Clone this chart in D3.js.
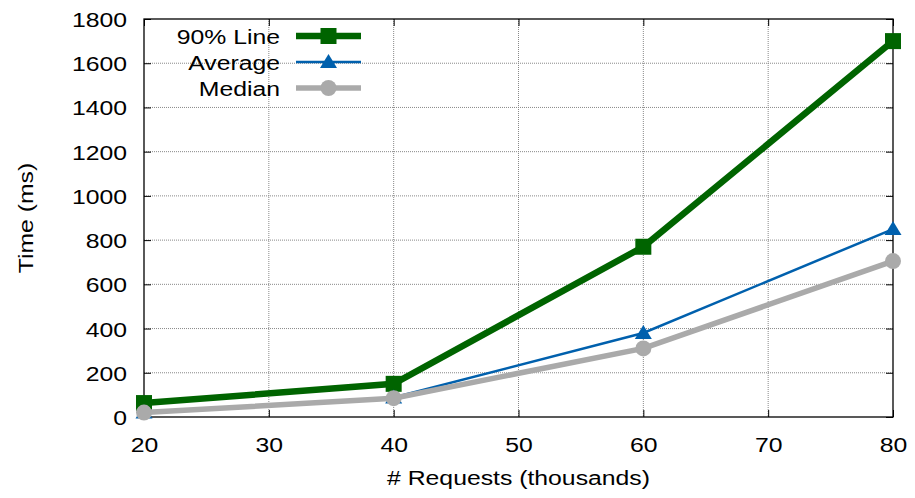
<!DOCTYPE html>
<html>
<head>
<meta charset="utf-8">
<script src="https://cdn.jsdelivr.net/npm/d3@7"></script>
<style>
  body { margin: 0; background: #fff; }
  svg text { font-family: "Liberation Sans", Arial, sans-serif; fill: #000; }
</style>
</head>
<body>
<div id="chart"></div>
<script>
// data
const requests = [20, 40, 60, 80];
const line90 = [63, 150, 770, 1700];
const average = [20, 88, 380, 850];
const median = [20, 85, 310, 705];
const xTicks = [20, 30, 40, 50, 60, 70, 80];
const yTicks = [0, 200, 400, 600, 800, 1000, 1200, 1400, 1600, 1800];

const series = [
  { name: '90% Line', values: line90, color: '#006400', width: 6.5, marker: 'square' },
  { name: 'Average', values: average, color: '#0060ad', width: 2.5, marker: 'triangle' },
  { name: 'Median', values: median, color: '#aaaaaa', width: 5.5, marker: 'circle' }
];

const width = 915, height = 498;
const margin = { top: 19, right: 22, bottom: 81, left: 144 };
const innerW = width - margin.left - margin.right;
const innerH = height - margin.top - margin.bottom;
const fontSize = '21px';
const stretch = 1.18; // reference font is wider than Liberation Sans

const svg = d3.select('#chart').append('svg')
  .attr('width', width)
  .attr('height', height);

const g = svg.append('g').attr('transform', `translate(${margin.left},${margin.top})`);

const x = d3.scaleLinear().domain([20, 80]).range([0, innerW]);
const y = d3.scaleLinear().domain([0, 1800]).range([innerH, 0]);

// move x/y into a transform so text can be widened around its anchor
function widen(sel) {
  sel.each(function() {
    const t = d3.select(this);
    const tx = +t.attr('x') || 0, ty = +t.attr('y') || 0;
    const prev = t.attr('transform') || '';
    t.attr('x', 0).attr('y', 0)
      .attr('transform', `${prev} translate(${tx},${ty}) scale(${stretch},1)`);
  });
}

// grid
g.append('g').selectAll('line')
  .data(xTicks.slice(1, -1))
  .join('line')
  .attr('x1', d => x(d)).attr('x2', d => x(d))
  .attr('y1', 0).attr('y2', innerH)
  .attr('stroke', '#888').attr('stroke-width', 1).attr('stroke-dasharray', '1,1');
g.append('g').selectAll('line')
  .data(yTicks.slice(1, -1))
  .join('line')
  .attr('x1', 0).attr('x2', innerW)
  .attr('y1', d => y(d)).attr('y2', d => y(d))
  .attr('stroke', '#888').attr('stroke-width', 1).attr('stroke-dasharray', '1,1');

// axes (gnuplot style, ticks inward and mirrored)
const xAxis = g.append('g').attr('transform', `translate(0,${innerH})`)
  .call(d3.axisBottom(x).tickValues(xTicks).tickFormat(d3.format('d')).tickSize(-7).tickPadding(14));
const xAxisTop = g.append('g')
  .call(d3.axisTop(x).tickValues(xTicks).tickSize(-7).tickFormat(''));
const yAxis = g.append('g')
  .call(d3.axisLeft(y).tickValues(yTicks).tickFormat(d3.format('d')).tickSize(-7).tickPadding(17));
const yAxisRight = g.append('g').attr('transform', `translate(${innerW},0)`)
  .call(d3.axisRight(y).tickValues(yTicks).tickSize(-7).tickFormat(''));

[xAxis, xAxisTop, yAxis, yAxisRight].forEach(a => {
  a.select('.domain').remove();
  a.selectAll('line').attr('stroke', '#000');
  a.selectAll('text').style('font-size', fontSize).attr('font-family', null);
});
xAxis.selectAll('text').attr('dy', null).attr('y', 452 - margin.top - innerH);
yAxis.selectAll('text').attr('dy', null).attr('y', 7.5);
widen(xAxis.selectAll('text'));
widen(yAxis.selectAll('text'));

g.append('rect')
  .attr('width', innerW).attr('height', innerH)
  .attr('fill', 'none').attr('stroke', '#000').attr('stroke-width', 1.3);

// axis titles
svg.append('text')
  .attr('transform', `translate(33,${margin.top + innerH / 2}) rotate(-90) scale(${stretch},1)`)
  .attr('text-anchor', 'middle')
  .style('font-size', fontSize)
  .text('Time (ms)');
svg.append('text')
  .attr('transform', `translate(${margin.left + innerW / 2},485) scale(${stretch},1)`)
  .attr('text-anchor', 'middle')
  .style('font-size', fontSize)
  .text('# Requests (thousands)');

function drawMarker(sel, type, color, cx, cy) {
  if (type === 'square') {
    sel.append('rect').attr('x', cx - 8).attr('y', cy - 8).attr('width', 16).attr('height', 16).attr('fill', color);
  } else if (type === 'triangle') {
    sel.append('path').attr('d', `M${cx},${cy - 8}L${cx + 8.5},${cy + 6}L${cx - 8.5},${cy + 6}Z`).attr('fill', color);
  } else {
    sel.append('circle').attr('cx', cx).attr('cy', cy).attr('r', 8).attr('fill', color);
  }
}

const line = d3.line().x((d, i) => x(requests[i])).y(d => y(d));
const plot = g.append('g');

// gnuplot order: 90% first, median last (on top)
series.forEach(s => {
  plot.append('path')
    .attr('d', line(s.values))
    .attr('fill', 'none')
    .attr('stroke', s.color)
    .attr('stroke-width', s.width)
    .attr('stroke-linejoin', 'miter');
  s.values.forEach((v, i) => drawMarker(plot, s.marker, s.color, x(requests[i]), y(v)));
});

// legend
const legend = svg.append('g');
series.forEach((s, i) => {
  const ly = 36 + i * 26;
  legend.append('text')
    .attr('transform', `translate(280,${ly + 7.5}) scale(${stretch},1)`)
    .attr('text-anchor', 'end')
    .style('font-size', fontSize)
    .text(s.name);
  legend.append('line')
    .attr('x1', 296).attr('x2', 361).attr('y1', ly).attr('y2', ly)
    .attr('stroke', s.color).attr('stroke-width', s.width);
  drawMarker(legend, s.marker, s.color, 328.5, ly);
});
</script>
</body>
</html>
